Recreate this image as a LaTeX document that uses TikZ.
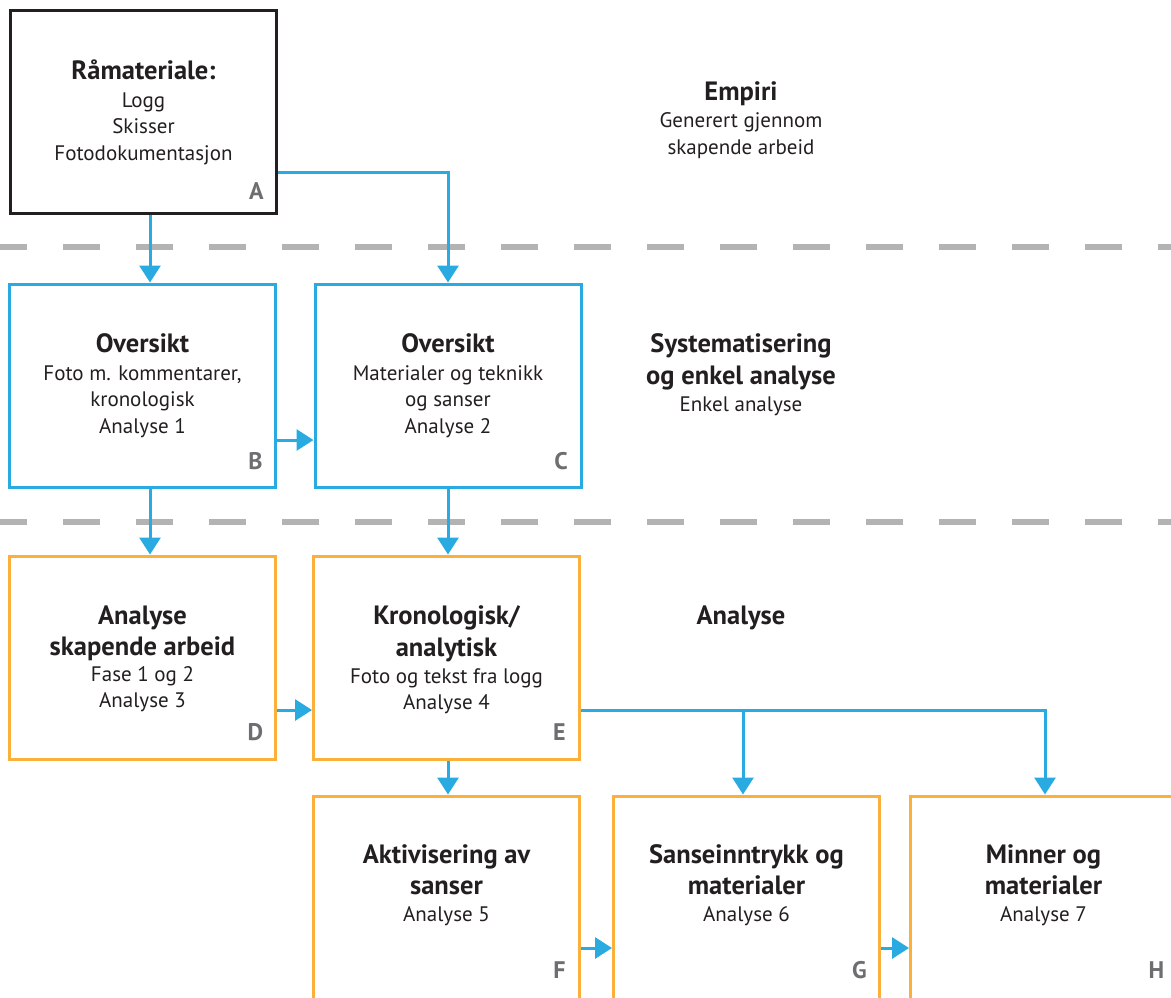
\documentclass[tikz,border=0pt]{standalone}
\usepackage{fontspec}
\setmainfont{PT Sans}
\usepackage{xcolor}
\usepackage{tikz}
\usetikzlibrary{arrows.meta, positioning}
\definecolor{skyblue}{RGB}{41,171,226}
\definecolor{amber}{RGB}{251,176,59}
\definecolor{dashgray}{RGB}{179,179,179}
\definecolor{ink}{RGB}{35,31,32}
\definecolor{tagray}{RGB}{109,110,113}
\newcommand{\hd}[1]{{\fontsize{26.5}{26.5}\selectfont\bfseries #1}}

\begin{document}
\begin{tikzpicture}[
          x=1pt, y=-1pt,
          box/.style={
            rectangle, draw=#1, line width=3pt, fill=white,
            minimum width=266pt, minimum height=203pt, inner sep=0pt
          },
          txt/.style={
            font=\fontsize{21}{26.5}\selectfont, text=ink,
            align=center, inner sep=0pt
          },
          tag/.style={
            font=\fontsize{24}{24}\selectfont\bfseries, text=tagray, inner sep=0pt
          },
          arrow/.style={
            -{Triangle[length=17pt, width=21pt]}, line width=3pt, color=skyblue
          },
          sep/.style={
            line width=6pt, color=dashgray, dash pattern=on 37pt off 36pt
          }
        ]
          \useasboundingbox (0,0) rectangle (1171,997);
          \clip (0,0) rectangle (1171,997);

          % level separators
          \draw[sep] (-10,247) -- (1190,247);
          \draw[sep] (-10,522) -- (1190,522);

          % boxes
          \node[box=ink]   (a) at (143.5,112)   {};
          \node[box=skyblue] (b) at (142.5,385.5) {};
          \node[box=skyblue] (c) at (448,385.5)   {};
          \node[box=amber] (d) at (142.5,657.5) {};
          \node[box=amber] (e) at (446.5,657.5) {};
          \node[box=amber] (f) at (446.5,897.5) {};
          \node[box=amber] (g) at (746.5,897.5) {};
          \node[box=amber] (h) at (1043.5,897.5) {};

          % box texts
          \node[txt, below=51pt of a.north] (a-txt) {\hd{Råmateriale:}\\[1pt]
                                                     Logg\\Skisser\\Fotodokumentasjon};
          \node[txt, below=51pt of b.north] (b-txt) {\hd{Oversikt}\\[1pt]
                                                     Foto m. kommentarer,\\kronologisk\\Analyse 1};
          \node[txt, below=51pt of c.north] (c-txt) {\hd{Oversikt}\\[1pt]
                                                     Materialer og teknikk\\og sanser\\Analyse 2};
          \node[txt, below=51pt of d.north] (d-txt) {\hd{Analyse}\\[5pt]\hd{skapende arbeid}\\[-1pt]
                                                     Fase 1 og 2\\Analyse 3};
          \node[txt, below=51pt of e.north] (e-txt) {\hd{Kronologisk/}\\[5pt]\hd{analytisk}\\[1pt]
                                                     Foto og tekst fra logg\\[-1pt]Analyse 4};
          \node[txt, below=50pt of f.north] (f-txt) {\hd{Aktivisering av}\\[4pt]\hd{sanser}\\[1pt]
                                                     Analyse 5};
          \node[txt, below=50pt of g.north] (g-txt) {\hd{Sanseinntrykk og}\\[4pt]\hd{materialer}\\[1pt]
                                                     Analyse 6};
          \node[txt, below=50pt of h.north] (h-txt) {\hd{Minner og}\\[4pt]\hd{materialer}\\[1pt]
                                                     Analyse 7};

          % level titles
          \node[txt, anchor=north] (empiri) at (741,81)
                {\hd{Empiri}\\[1pt]Generert gjennom\\skapende arbeid};
          \node[txt, anchor=north] (syst) at (b-txt.north -| 741,0)
                {\hd{Systematisering}\\[5pt]\hd{og enkel analyse}\\[1pt]Enkel analyse};
          \node[txt, anchor=north] (anal) at (d-txt.north -| 741,0) {\hd{Analyse}};

          % corner letters
          \node[tag] (a-tag) at ([xshift=-21.5pt, yshift=24pt]a.south east) {A};
          \node[tag] (b-tag) at ([xshift=-21.5pt, yshift=27pt]b.south east) {B};
          \node[tag] (c-tag) at ([xshift=-21.5pt, yshift=27pt]c.south east) {C};
          \node[tag] (d-tag) at ([xshift=-21.5pt, yshift=28pt]d.south east) {D};
          \node[tag] (e-tag) at ([xshift=-21.5pt, yshift=28pt]e.south east) {E};
          \node[tag] (f-tag) at ([xshift=-21.5pt, yshift=30pt]f.south east) {F};
          \node[tag] (g-tag) at ([xshift=-21.5pt, yshift=30pt]g.south east) {G};
          \node[tag] (h-tag) at ([xshift=-21.5pt, yshift=30pt]h.south east) {H};

          % connectors
          \draw[arrow] ([xshift=6.5pt]a.south) -- ([xshift=6.5pt]a.south |- b.north);
          \draw[arrow] ([yshift=-60pt]a.east) -| (c.north);
          \draw[arrow] ([yshift=-54.5pt]b.east) -- ([yshift=-54.5pt]b.east -| c.west);
          \draw[arrow] ([xshift=7.5pt]b.south) -- ([xshift=7.5pt]b.south |- d.north);
          \draw[arrow] (c.south) -- (c.south |- e.north);
          \draw[arrow] ([yshift=-52.5pt]d.east) -- ([yshift=-52.5pt]d.east -| e.west);
          \draw[arrow] ([xshift=1.5pt]e.south) -- ([xshift=1.5pt]e.south |- f.north);
          \draw[arrow] ([yshift=-52.5pt]e.east) -| ([xshift=-3.5pt]g.north);
          \draw[arrow] ([yshift=-52.5pt]e.east) -| ([xshift=1.5pt]h.north);
          \draw[arrow] ([yshift=-50.5pt]f.east) -- ([yshift=-50.5pt]f.east -| g.west);
          \draw[arrow] ([yshift=-50.5pt]g.east) -- ([yshift=-50.5pt]g.east -| h.west);
        \end{tikzpicture}
\end{document}
